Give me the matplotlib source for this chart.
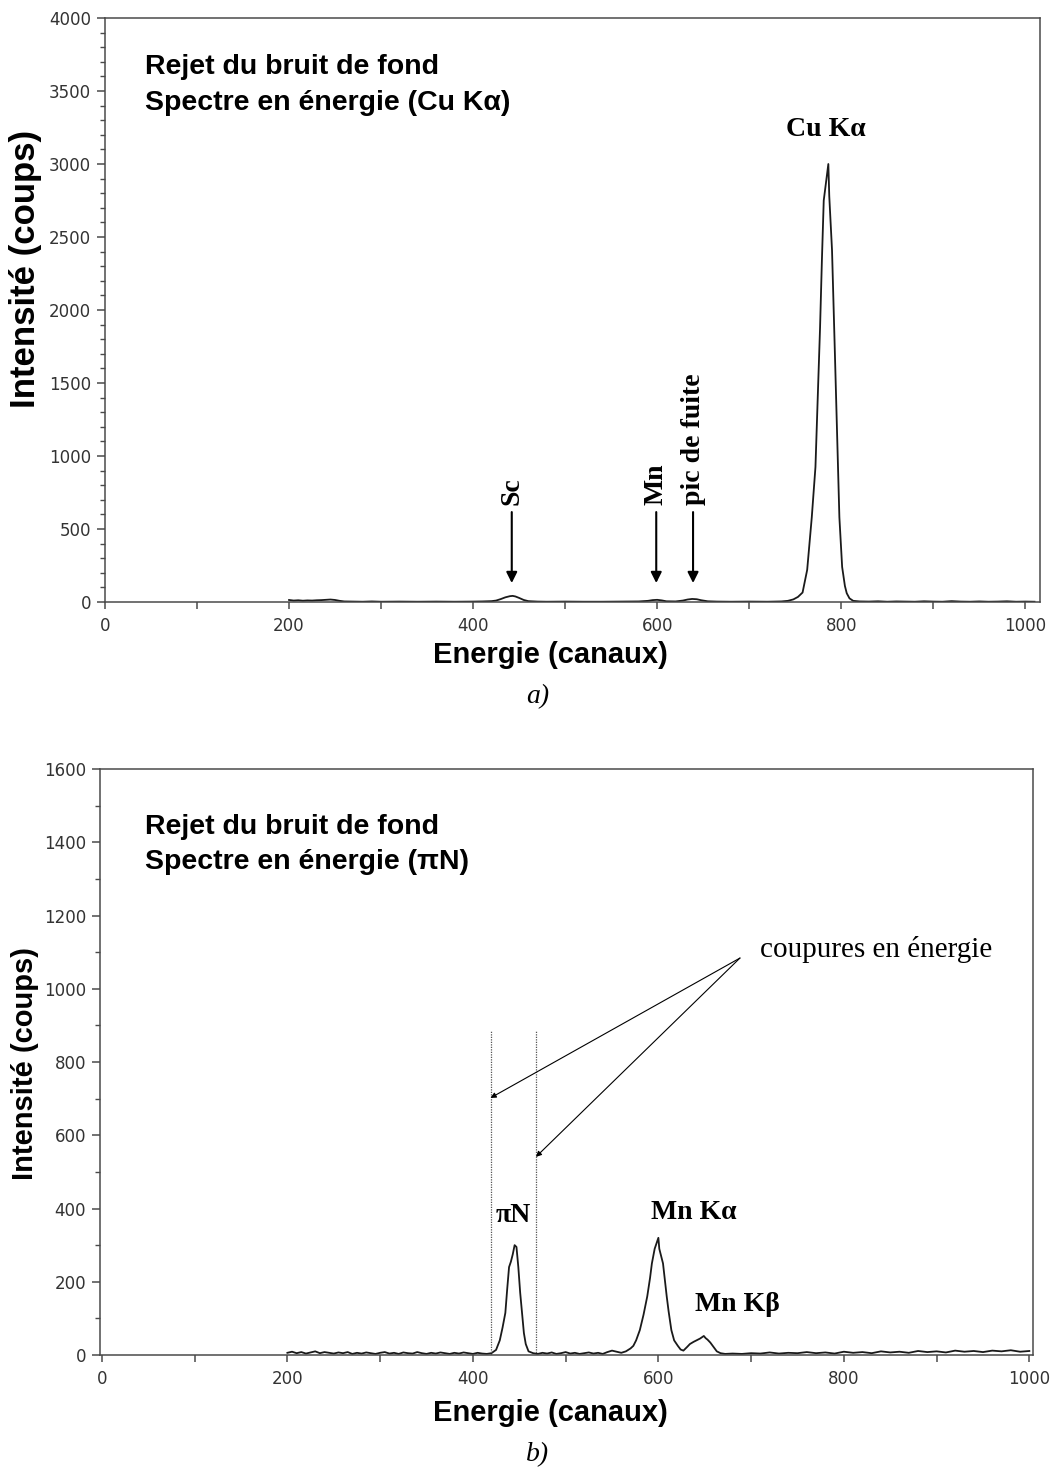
import matplotlib

matplotlib.use("Agg")
import matplotlib.pyplot as plt
from matplotlib.ticker import MultipleLocator

# spectrum a) : Cu K-alpha source
chan_a = [200, 205, 210, 215, 220, 225, 230, 235, 240, 245, 250, 255, 260, 270,
          280, 290, 300, 320, 340, 360, 380, 400, 410, 420, 425, 430, 435, 440,
          443, 446, 450, 455, 460, 470, 480, 500, 520, 540, 560, 580, 590, 595,
          600, 605, 610, 620, 628, 633, 638, 643, 648, 655, 665, 680, 700, 720,
          735, 742, 748, 753, 758, 763, 768, 772, 775, 777, 779, 781, 784, 786,
          787, 790, 793, 796, 798, 801, 804, 806, 809, 813, 820, 830, 840, 850,
          860, 870, 880, 890, 900, 910, 920, 930, 940, 950, 960, 970, 980, 990,
          1000, 1010]
counts_a = [14, 10, 12, 9, 11, 10, 12, 13, 15, 17, 14, 8, 4, 3,
            2, 4, 2, 3, 2, 3, 2, 3, 4, 6, 10, 20, 32, 40,
            42, 38, 28, 14, 6, 3, 2, 3, 2, 2, 3, 4, 8, 13,
            15, 11, 5, 4, 10, 17, 21, 19, 12, 5, 3, 2, 3, 2,
            4, 8, 18, 35, 65, 220, 580, 925, 1500, 1880, 2340, 2750, 2900, 3000,
            2780, 2410, 1730, 1040, 580, 240, 110, 60, 25, 8, 4, 3, 5, 2,
            4, 3, 2, 5, 3, 2, 6, 3, 2, 4, 2, 3, 5, 2,
            3, 2]

# spectrum b) : pi-N background rejection
chan_b = [200, 205, 210, 215, 220, 225, 230, 235, 240, 245, 250, 255, 260, 265,
          270, 275, 280, 285, 290, 295, 300, 305, 310, 315, 320, 325, 330, 335,
          340, 345, 350, 355, 360, 365, 370, 375, 380, 385, 390, 395, 400, 405,
          410, 415, 420, 425, 429, 432, 435, 437, 439, 441, 443, 445, 447, 449,
          451, 453, 455, 457, 460, 465, 470, 475, 480, 485, 490, 495, 500, 505,
          510, 515, 520, 525, 530, 535, 540, 545, 550, 555, 560, 565, 570, 573,
          576, 580, 584, 588, 591, 593, 596, 598, 600, 601, 603, 605, 607, 609,
          611, 614, 617, 621, 624, 627, 631, 634, 638, 641, 645, 649, 651, 653,
          656, 660, 663, 667, 672, 680, 690, 700, 710, 720, 730, 740, 750, 760,
          770, 780, 790, 800, 810, 820, 830, 840, 850, 860, 870, 880, 890, 900,
          910, 920, 930, 940, 950, 960, 970, 980, 990, 1000]
counts_b = [6, 9, 5, 8, 4, 7, 10, 5, 8, 6, 4, 7, 5, 8,
            3, 6, 4, 7, 5, 3, 6, 8, 4, 6, 3, 7, 5, 4,
            8, 5, 3, 6, 4, 7, 5, 3, 6, 4, 7, 5, 3, 6,
            4, 3, 5, 14, 40, 75, 115, 180, 240, 255, 275, 300, 295, 240,
            170, 115, 60, 30, 10, 5, 3, 6, 4, 7, 3, 5, 8, 4,
            6, 3, 5, 7, 4, 6, 3, 8, 12, 9, 6, 10, 18, 25,
            40, 68, 110, 160, 210, 250, 290, 305, 320, 290, 270, 250, 205, 160,
            120, 68, 40, 25, 15, 12, 22, 30, 36, 40, 45, 52, 46, 42,
            34, 20, 10, 5, 3, 4, 3, 5, 4, 7, 4, 6, 5, 8,
            5, 7, 4, 9, 6, 8, 5, 10, 7, 9, 6, 11, 8, 10,
            7, 12, 9, 11, 8, 12, 10, 13, 9, 11]

x_ticks = [0, 200, 400, 600, 800, 1000]
cuts_b = [419, 468]

SANS = "Liberation Sans"
SERIF = "Liberation Serif"
AX_COLOR = "#4a4a4a"


def style_axes(ax, y_major, y_minor):
    for sp in ax.spines.values():
        sp.set_color(AX_COLOR)
        sp.set_linewidth(1.1)
    ax.set_xticks(x_ticks)
    ax.xaxis.set_minor_locator(MultipleLocator(100))
    ax.yaxis.set_major_locator(MultipleLocator(y_major))
    ax.yaxis.set_minor_locator(MultipleLocator(y_minor))
    ax.tick_params(axis="x", which="both", direction="out", length=5, width=1.1,
                   color=AX_COLOR, pad=6, labelsize=12, labelcolor="#333333")
    ax.tick_params(axis="y", which="major", direction="out", length=6, width=1.1,
                   color=AX_COLOR, pad=4, labelsize=12, labelcolor="#333333")
    ax.tick_params(axis="y", which="minor", direction="out", length=3.5, width=1.0,
                   color=AX_COLOR)
    for lab in ax.get_xticklabels() + ax.get_yticklabels():
        lab.set_family("DejaVu Sans")


fig = plt.figure(figsize=(10.52, 14.73), dpi=100)

# ---- panel a
ax1 = fig.add_axes([0.0998, 0.5913, 0.8888, 0.3965])
ax1.plot(chan_a, counts_a, color="#1a1a1a", lw=1.3)
ax1.set_xlim(0, 1016)
ax1.set_ylim(0, 4000)
style_axes(ax1, 500, 100)

ax1.text(0.043, 0.916, "Rejet du bruit de fond", transform=ax1.transAxes,
         family=SANS, weight="bold", fontsize=20.5, va="center")
ax1.text(0.043, 0.854, "Spectre en énergie (Cu Kα)", transform=ax1.transAxes,
         family=SANS, weight="bold", fontsize=20.5, va="center")
ax1.text(783, 3233, "Cu Kα", family=SERIF, weight="bold", fontsize=20,
         ha="center", va="center")

arrow_kw = dict(arrowstyle="-|>", lw=1.5, color="black", mutation_scale=16,
                shrinkA=0, shrinkB=0)
for xpos, label in [(442, "Sc"), (599, "Mn"), (639, "pic de fuite")]:
    ax1.annotate("", xy=(xpos, 130), xytext=(xpos, 616), arrowprops=arrow_kw)
    ax1.text(xpos, 664, label, family=SERIF, weight="bold", fontsize=20,
             rotation=90, ha="center", va="bottom")

# ---- panel b
ax2 = fig.add_axes([0.0951, 0.0801, 0.8869, 0.3978])
ax2.plot(chan_b, counts_b, color="#1a1a1a", lw=1.3)
ax2.set_xlim(-2, 1004)
ax2.set_ylim(0, 1600)
style_axes(ax2, 200, 100)

ax2.vlines(cuts_b, 0, 888, colors="#555555", linestyles=(0, (1, 1)), lw=0.9)
ax2.text(0.048, 0.901, "Rejet du bruit de fond", transform=ax2.transAxes,
         family=SANS, weight="bold", fontsize=20.5, va="center")
ax2.text(0.048, 0.841, "Spectre en énergie (πN)", transform=ax2.transAxes,
         family=SANS, weight="bold", fontsize=20.5, va="center")
ax2.text(710, 1106, "coupures en énergie", family=SERIF, fontsize=21,
         ha="left", va="center")
thin_kw = dict(arrowstyle="-|>", lw=0.8, color="black", mutation_scale=8,
               shrinkA=0, shrinkB=0)
ax2.annotate("", xy=(cuts_b[0], 702), xytext=(688, 1084), arrowprops=thin_kw)
ax2.annotate("", xy=(cuts_b[1], 541), xytext=(688, 1084), arrowprops=thin_kw)

ax2.text(444, 382, "πN", family=SERIF, weight="bold", fontsize=20,
         ha="center", va="center")
ax2.text(638, 388, "Mn Kα", family=SERIF, weight="bold", fontsize=20,
         ha="center", va="center")
ax2.text(685, 137, "Mn Kβ", family=SERIF, weight="bold", fontsize=20,
         ha="center", va="center")

# ---- axis titles and panel letters
for ylab_y, ylab_size, xlab_y, letter, letter_y in [
        (0.8174, 25, 0.5553, "a)", 0.5268),
        (0.2777, 21, 0.0408, "b)", 0.0122)]:
    fig.text(0.024, ylab_y, "Intensité (coups)", family=SANS, weight="bold",
             fontsize=ylab_size, rotation=90, ha="center", va="center")
    fig.text(0.523, xlab_y, "Energie (canaux)", family=SANS, weight="bold",
             fontsize=21, ha="center", va="center")
    fig.text(0.511, letter_y, letter, family=SERIF, style="italic",
             fontsize=20, ha="center", va="center")

fig.savefig("out.png", dpi=100)
